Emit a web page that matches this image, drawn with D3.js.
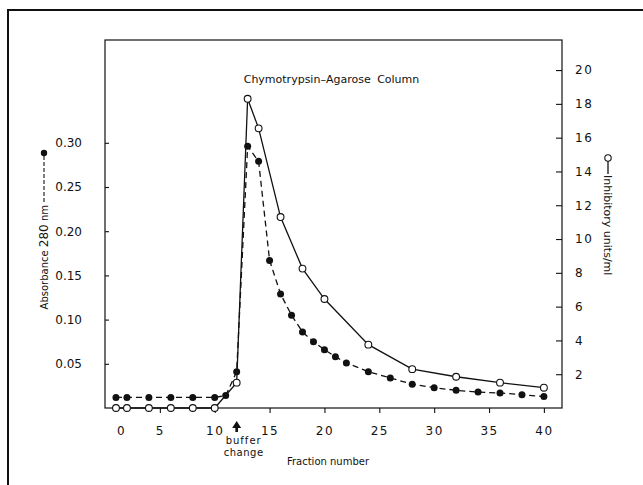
<!DOCTYPE html>
<html>
<head>
<meta charset="utf-8">
<script src="https://cdn.jsdelivr.net/npm/d3@7/dist/d3.min.js"></script>
<style>
  html, body { margin: 0; padding: 0; background: #fff; }
  svg { display: block; }
  text { font-family: "DejaVu Sans", sans-serif; fill: #111; }
</style>
</head>
<body>
<svg id="chart" width="643" height="485"></svg>
<script>
// Chymotrypsin-Agarose column elution profile
const fractionsAbs = [1, 2, 4, 6, 8, 10, 11, 12, 13, 14, 15, 16, 17, 18, 19, 20, 21, 22, 24, 26, 28, 30, 32, 34, 36, 38, 40];
const absorbance   = [0.012, 0.012, 0.012, 0.012, 0.012, 0.012, 0.014, 0.041, 0.296, 0.279, 0.167, 0.129, 0.105, 0.086, 0.075, 0.066, 0.058, 0.051, 0.041, 0.034, 0.027, 0.023, 0.020, 0.018, 0.017, 0.015, 0.013];

const fractionsInh = [1, 2, 4, 6, 8, 10, 12, 13, 14, 16, 18, 20, 24, 28, 32, 36, 40];
const inhibitory   = [0, 0, 0, 0, 0, 0, 1.5, 18.3, 16.55, 11.3, 8.25, 6.45, 3.75, 2.3, 1.85, 1.5, 1.2];

const xTicks = [0, 5, 10, 15, 20, 25, 30, 35, 40];
const absTicks = [0.05, 0.10, 0.15, 0.20, 0.25, 0.30];
const inhTicks = [2, 4, 6, 8, 10, 12, 14, 16, 18, 20];
const bufferChangeFraction = 12;

const svg = d3.select("#chart");
const plot = { left: 105, right: 562, top: 40, bottom: 408 };

const x = d3.scaleLinear().domain([0, 41.65]).range([plot.left, plot.right]);
const yAbs = d3.scaleLinear().domain([0, 0.4163]).range([plot.bottom, plot.top]);
const yInh = d3.scaleLinear().domain([0, 21.78]).range([plot.bottom, plot.top]);

const ink = "#111";

// outer frame of the figure
svg.append("rect")
  .attr("x", 8).attr("y", 10).attr("width", 700).attr("height", 520)
  .attr("fill", "none").attr("stroke", ink).attr("stroke-width", 2);

// plot box
svg.append("rect")
  .attr("x", plot.left).attr("y", plot.top)
  .attr("width", plot.right - plot.left).attr("height", plot.bottom - plot.top)
  .attr("fill", "none").attr("stroke", ink).attr("stroke-width", 1.2);

// axes
const gx = svg.append("g")
  .attr("transform", `translate(0,${plot.bottom})`)
  .call(d3.axisBottom(x).tickValues(xTicks).tickFormat(d3.format("d"))
        .tickSizeInner(5).tickSizeOuter(0).tickPadding(13));

const gl = svg.append("g")
  .attr("transform", `translate(${plot.left},0)`)
  .call(d3.axisLeft(yAbs).tickValues(absTicks).tickFormat(d3.format(".2f"))
        .tickSizeInner(-4).tickSizeOuter(0).tickPadding(23));

const gr = svg.append("g")
  .attr("transform", `translate(${plot.right},0)`)
  .call(d3.axisRight(yInh).tickValues(inhTicks).tickFormat(d3.format("d"))
        .tickSizeInner(-6).tickSizeOuter(0).tickPadding(13));

[gx, gl, gr].forEach(g => {
  g.select(".domain").remove();
  g.selectAll(".tick line").attr("stroke", ink).attr("stroke-width", 1.1);
  g.selectAll(".tick text")
    .attr("fill", ink)
    .style("font-family", '"DejaVu Sans", sans-serif')
    .style("font-size", "12px");
});
gx.selectAll(".tick text").style("letter-spacing", "1.5px");
gr.selectAll(".tick text").style("letter-spacing", "1.5px");
// the zero label sits just right of the corner
gx.selectAll(".tick").filter(d => d === 0).select("text").attr("dx", 16);
gx.selectAll(".tick").filter(d => d === 0).select("line").remove();

// lines
const lineAbs = d3.line()
  .x((d, i) => x(fractionsAbs[i]))
  .y(d => yAbs(d));
const lineInh = d3.line()
  .x((d, i) => x(fractionsInh[i]))
  .y(d => yInh(d));

svg.append("path")
  .attr("d", lineInh(inhibitory))
  .attr("fill", "none").attr("stroke", ink).attr("stroke-width", 1.3);

svg.append("path")
  .attr("d", lineAbs(absorbance))
  .attr("fill", "none").attr("stroke", ink).attr("stroke-width", 1.3)
  .attr("stroke-dasharray", "6,4");

// points
svg.append("g").selectAll("circle")
  .data(inhibitory)
  .join("circle")
  .attr("cx", (d, i) => x(fractionsInh[i]))
  .attr("cy", d => yInh(d))
  .attr("r", 3.4)
  .attr("fill", "#fff").attr("stroke", ink).attr("stroke-width", 1.1);

svg.append("g").selectAll("circle")
  .data(absorbance)
  .join("circle")
  .attr("cx", (d, i) => x(fractionsAbs[i]))
  .attr("cy", d => yAbs(d))
  .attr("r", 3.5)
  .attr("fill", ink);

// title
svg.append("text")
  .attr("x", (plot.left + plot.right) / 2 - 2)
  .attr("y", 83)
  .attr("text-anchor", "middle")
  .style("font-size", "11px")
  .style("word-spacing", "3px")
  .text("Chymotrypsin–Agarose Column");

// x axis title
svg.append("text")
  .attr("x", 328)
  .attr("y", 465)
  .attr("text-anchor", "middle")
  .style("font-size", "10px")
  .text("Fraction number");

// buffer change arrow and label
const bx = x(bufferChangeFraction);
svg.append("path")
  .attr("d", `M${bx},421 L${bx + 4.5},428 L${bx + 1.3},428 L${bx + 1.3},432 L${bx - 1.3},432 L${bx - 1.3},428 L${bx - 4.5},428 Z`)
  .attr("fill", ink);
svg.append("text")
  .attr("x", bx + 7).attr("y", 444)
  .attr("text-anchor", "middle")
  .style("font-size", "10px").style("letter-spacing", "1px")
  .text("buffer");
svg.append("text")
  .attr("x", bx + 7).attr("y", 456)
  .attr("text-anchor", "middle")
  .style("font-size", "10px").style("letter-spacing", "0.5px")
  .text("change");

// left axis title with its key (filled dot, dashed line)
const gLeftTitle = svg.append("g").attr("transform", "translate(44,205) rotate(-90)");
const leftText = gLeftTitle.append("text")
  .attr("x", 0).attr("y", 0).attr("dy", "0.35em")
  .attr("text-anchor", "end")
  .style("font-size", "10px");
leftText.append("tspan").text("Absorbance ");
leftText.append("tspan").style("font-size", "12px").text("280");
leftText.append("tspan").text(" nm");
gLeftTitle.append("line")
  .attr("x1", 3).attr("x2", 50).attr("y1", 0).attr("y2", 0)
  .attr("stroke", ink).attr("stroke-width", 1.1).attr("stroke-dasharray", "4,2");
gLeftTitle.append("circle")
  .attr("cx", 52).attr("cy", 0).attr("r", 3.2).attr("fill", ink);

// right axis title with its key (open circle, solid line)
const gRightTitle = svg.append("g").attr("transform", "translate(608,158) rotate(90)");
gRightTitle.append("circle")
  .attr("cx", 0).attr("cy", 0).attr("r", 3.2)
  .attr("fill", "#fff").attr("stroke", ink).attr("stroke-width", 1.1);
gRightTitle.append("line")
  .attr("x1", 3.2).attr("x2", 16).attr("y1", 0).attr("y2", 0)
  .attr("stroke", ink).attr("stroke-width", 1.3);
gRightTitle.append("text")
  .attr("x", 17).attr("y", 0).attr("dy", "0.35em")
  .attr("text-anchor", "start")
  .style("font-size", "11px")
  .text("Inhibitory units/ml");
</script>
</body>
</html>
